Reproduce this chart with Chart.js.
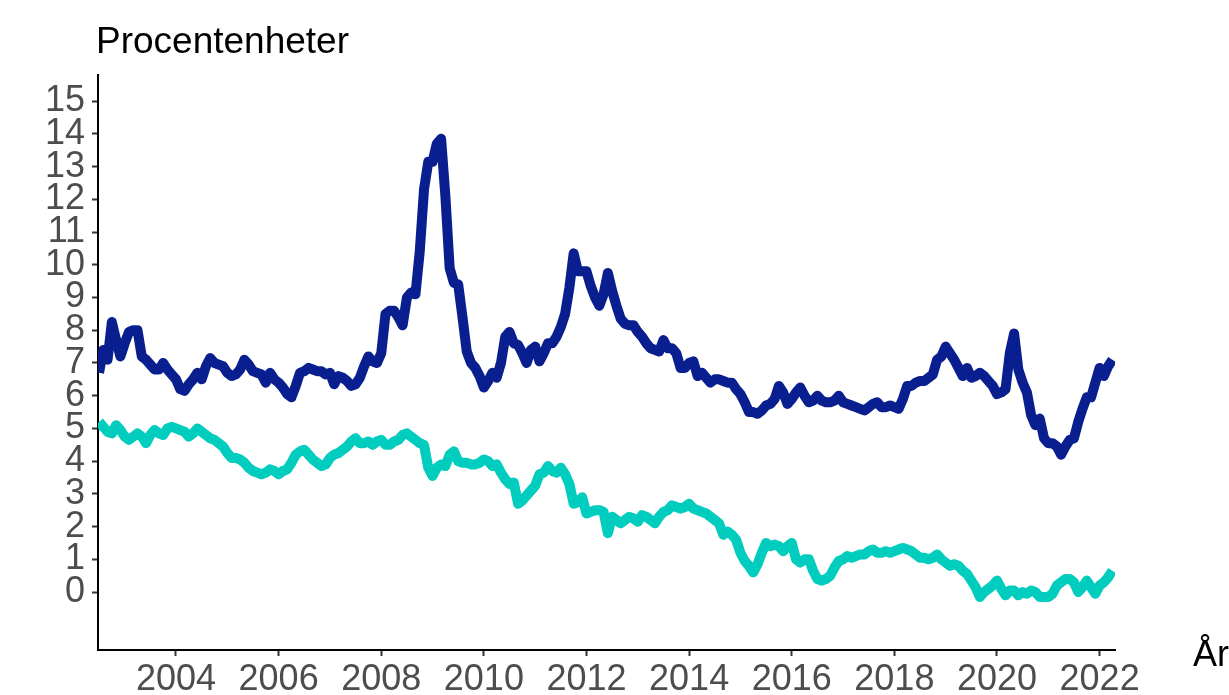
<!DOCTYPE html>
<html>
<head>
<meta charset="utf-8">
<script src="https://cdn.jsdelivr.net/npm/chart.js@4.4.1/dist/chart.umd.min.js"></script>
<style>
  html, body { margin: 0; padding: 0; background: #ffffff; }
  #wrap { width: 1229px; height: 695px; position: relative; }
</style>
</head>
<body>
<div id="wrap"><canvas id="c" width="1229" height="695"></canvas></div>
<script>
// ---- Data (monthly, July 2002 – April 2022) ----
const START_YEAR = 2002;
const START_MONTH = 7;

const seriesNames = ["Serie 1", "Serie 2"];

const darkValues = [
  // 2002 Jul-Dec
  6.7, 7.4, 7.1, 8.25, 7.7, 7.2,
  // 2003
  7.6, 7.95, 8.0, 8.0, 7.2, 7.1, 6.95, 6.8, 6.8, 7.0, 6.8, 6.65,
  // 2004
  6.5, 6.2, 6.15, 6.35, 6.5, 6.7, 6.5, 6.9, 7.15, 7.0, 6.95, 6.9,
  // 2005
  6.7, 6.6, 6.65, 6.8, 7.1, 6.95, 6.75, 6.7, 6.65, 6.4, 6.7, 6.5,
  // 2006
  6.4, 6.25, 6.05, 5.95, 6.3, 6.7, 6.75, 6.85, 6.8, 6.75, 6.75, 6.65,
  // 2007
  6.7, 6.35, 6.6, 6.55, 6.45, 6.3, 6.35, 6.55, 6.9, 7.2, 7.05, 7.0,
  // 2008
  7.3, 8.5, 8.6, 8.6, 8.4, 8.15, 9.0, 9.15, 9.1, 10.4, 12.3, 13.15,
  // 2009
  13.15, 13.7, 13.85, 12.1, 9.9, 9.45, 9.4, 8.4, 7.35, 7.0, 6.85, 6.6,
  // 2010
  6.25, 6.45, 6.7, 6.55, 7.0, 7.8, 7.95, 7.6, 7.55, 7.3, 7.0, 7.4,
  // 2011
  7.5, 7.05, 7.3, 7.6, 7.6, 7.8, 8.1, 8.5, 9.3, 10.35, 9.8, 9.8,
  // 2012
  9.8, 9.35, 9.0, 8.75, 9.1, 9.75, 9.2, 8.75, 8.35, 8.2, 8.15, 8.15,
  // 2013
  7.95, 7.8, 7.6, 7.45, 7.4, 7.35, 7.7, 7.45, 7.45, 7.3, 6.85, 6.85,
  // 2014
  7.0, 7.05, 6.6, 6.7, 6.55, 6.4, 6.5, 6.5, 6.45, 6.4, 6.4, 6.2,
  // 2015
  6.05, 5.8, 5.5, 5.5, 5.45, 5.55, 5.7, 5.75, 5.9, 6.3, 6.1, 5.75,
  // 2016
  5.9, 6.1, 6.25, 6.0, 5.8, 5.85, 6.0, 5.85, 5.8, 5.8, 5.85, 6.0,
  // 2017
  5.8, 5.75, 5.7, 5.65, 5.6, 5.55, 5.65, 5.75, 5.8, 5.65, 5.65, 5.7,
  // 2018
  5.65, 5.6, 5.9, 6.3, 6.3, 6.4, 6.45, 6.45, 6.55, 6.65, 7.1, 7.2,
  // 2019
  7.5, 7.3, 7.1, 6.85, 6.6, 6.85, 6.55, 6.6, 6.7, 6.6, 6.45, 6.3,
  // 2020
  6.05, 6.1, 6.2, 7.3, 7.9, 6.8, 6.4, 6.1, 5.4, 5.1, 5.3, 4.7,
  // 2021
  4.55, 4.55, 4.45, 4.2, 4.45, 4.65, 4.7, 5.2, 5.6, 5.95, 5.95, 6.4,
  // 2022 Jan-Apr
  6.85, 6.6, 6.9, 7.1
];

const tealValues = [
  // 2002 Jul-Dec
  5.2, 5.05, 4.9, 4.85, 5.1, 4.95,
  // 2003
  4.75, 4.65, 4.75, 4.85, 4.75, 4.55, 4.8, 4.95, 4.85, 4.8, 5.0, 5.05,
  // 2004
  5.0, 4.95, 4.9, 4.75, 4.85, 5.0, 4.9, 4.8, 4.7, 4.65, 4.55, 4.45,
  // 2005
  4.25, 4.1, 4.1, 4.05, 3.95, 3.8, 3.7, 3.65, 3.6, 3.65, 3.75, 3.7,
  // 2006
  3.6, 3.7, 3.75, 3.95, 4.2, 4.3, 4.35, 4.2, 4.05, 3.95, 3.85, 3.9,
  // 2007
  4.1, 4.2, 4.25, 4.35, 4.45, 4.6, 4.7, 4.55, 4.55, 4.6, 4.5, 4.6,
  // 2008
  4.65, 4.5, 4.5, 4.6, 4.65, 4.8, 4.85, 4.75, 4.65, 4.55, 4.5, 3.8,
  // 2009
  3.55, 3.8, 3.9, 3.85, 4.2, 4.3, 4.0, 3.95, 3.95, 3.9, 3.9, 3.95,
  // 2010
  4.05, 4.0, 3.85, 3.9, 3.65, 3.45, 3.3, 3.35, 2.7, 2.8, 2.95, 3.1,
  // 2011
  3.25, 3.6, 3.65, 3.85, 3.7, 3.65, 3.8, 3.6, 3.3, 2.7, 2.75, 2.9,
  // 2012
  2.4, 2.45, 2.5, 2.5, 2.45, 1.8, 2.3, 2.2, 2.1, 2.2, 2.3, 2.25,
  // 2013
  2.15, 2.35, 2.3, 2.2, 2.1, 2.3, 2.45, 2.5, 2.65, 2.6, 2.55, 2.6,
  // 2014
  2.7, 2.55, 2.5, 2.45, 2.4, 2.3, 2.2, 2.1, 1.75, 1.85, 1.75, 1.6,
  // 2015
  1.2, 0.95, 0.8, 0.6, 0.85, 1.2, 1.5, 1.4, 1.45, 1.4, 1.25, 1.4,
  // 2016
  1.5, 1.0, 0.9, 1.0, 1.0, 0.65, 0.4, 0.35, 0.4, 0.5, 0.75, 0.95,
  // 2017
  1.0, 1.1, 1.05, 1.1, 1.15, 1.15, 1.25, 1.3, 1.2, 1.2, 1.25, 1.2,
  // 2018
  1.25, 1.3, 1.35, 1.3, 1.25, 1.15, 1.05, 1.05, 1.0, 1.05, 1.15, 1.0,
  // 2019
  0.9, 0.8, 0.85, 0.8, 0.65, 0.55, 0.35, 0.15, -0.15, 0.0, 0.1, 0.2,
  // 2020
  0.35, 0.1, -0.1, 0.05, 0.05, -0.1, 0.0, -0.05, 0.05, 0.0, -0.15, -0.15,
  // 2021
  -0.15, -0.05, 0.2, 0.3, 0.4, 0.4, 0.3, 0.0, 0.15, 0.35, 0.15, -0.05,
  // 2022 Jan-Apr
  0.2, 0.3, 0.45, 0.65
];

const yTickValues = [0, 1, 2, 3, 4, 5, 6, 7, 8, 9, 10, 11, 12, 13, 14, 15];
const xTickValues = [2004, 2006, 2008, 2010, 2012, 2014, 2016, 2018, 2020, 2022];

const titleText = "Procentenheter";
const xAxisText = "År";

// ---- Build points (decimal year on x) ----
function monthToYear(i) {
  return START_YEAR + (START_MONTH - 1 + i) / 12;
}
const darkPoints = darkValues.map((v, i) => ({ x: monthToYear(i), y: v }));
const tealPoints = tealValues.map((v, i) => ({ x: monthToYear(i), y: v }));

const FONT = "'Liberation Sans', Arial, Helvetica, sans-serif";

const textPlugin = {
  id: 'textPlugin',
  afterDraw(chart) {
    const ctx = chart.ctx;
    ctx.save();
    ctx.fillStyle = '#000000';
    ctx.font = '37px ' + FONT;
    ctx.textBaseline = 'middle';
    ctx.textAlign = 'left';
    ctx.fillText(titleText, 96, 43);
    ctx.font = '36px ' + FONT;
    ctx.textAlign = 'right';
    ctx.fillText(xAxisText, 1229, 656);
    ctx.restore();
  }
};

new Chart(document.getElementById('c'), {
  type: 'line',
  data: {
    datasets: [
      {
        label: seriesNames[0],
        data: darkPoints,
        borderColor: '#0a1f8f',
        borderWidth: 10,
        pointRadius: 0,
        tension: 0,
        borderJoinStyle: 'round',
        borderCapStyle: 'butt',
        fill: false
      },
      {
        label: seriesNames[1],
        data: tealPoints,
        borderColor: '#00cdbd',
        borderWidth: 10,
        pointRadius: 0,
        tension: 0,
        borderJoinStyle: 'round',
        borderCapStyle: 'butt',
        fill: false
      }
    ]
  },
  options: {
    responsive: false,
    animation: false,
    devicePixelRatio: 1,
    layout: { padding: { left: 0, right: 114, top: 75, bottom: 0 } },
    plugins: {
      legend: { display: false },
      tooltip: { enabled: false },
      title: { display: false }
    },
    scales: {
      x: {
        type: 'linear',
        min: 2002.48,
        max: 2022.3,
        afterBuildTicks(scale) {
          scale.ticks = xTickValues.map(v => ({ value: v }));
        },
        afterFit(scale) { scale.height = 45; },
        ticks: {
          autoSkip: false,
          maxRotation: 0,
          color: '#4d4d4d',
          font: { family: FONT, size: 36 },
          padding: 2,
          callback: v => String(v)
        },
        grid: {
          drawOnChartArea: false,
          drawTicks: true,
          tickLength: 6,
          tickWidth: 2,
          tickColor: '#333333'
        },
        border: { display: true, color: '#000000', width: 2 }
      },
      y: {
        type: 'linear',
        min: -1.77,
        max: 15.8,
        afterBuildTicks(scale) {
          scale.ticks = yTickValues.map(v => ({ value: v }));
        },
        afterFit(scale) { scale.width = 98; },
        ticks: {
          autoSkip: false,
          color: '#4d4d4d',
          font: { family: FONT, size: 36 },
          padding: 7,
          callback: v => String(v)
        },
        grid: {
          drawOnChartArea: false,
          drawTicks: true,
          tickLength: 6,
          tickWidth: 2,
          tickColor: '#333333'
        },
        border: { display: true, color: '#000000', width: 2 }
      }
    }
  },
  plugins: [textPlugin]
});
</script>
</body>
</html>
